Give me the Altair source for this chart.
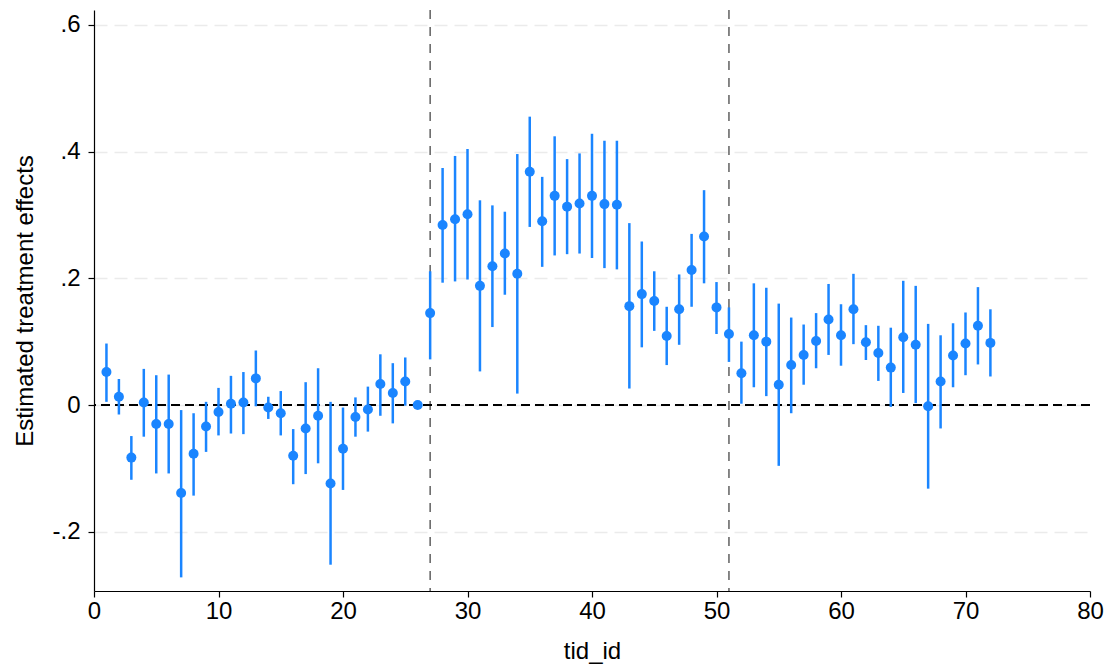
import altair as alt
import pandas as pd

tid = list(range(1, 73))
est = [0.052, 0.013, -0.083, 0.004, -0.030, -0.030, -0.139, -0.077, -0.034, -0.011,
       0.002, 0.004, 0.042, -0.004, -0.013, -0.080, -0.037, -0.017, -0.124, -0.069,
       -0.019, -0.007, 0.033, 0.019, 0.037, 0.000, 0.145, 0.284, 0.293, 0.301,
       0.188, 0.219, 0.239, 0.207, 0.368, 0.290, 0.330, 0.313, 0.318, 0.330,
       0.317, 0.316, 0.156, 0.175, 0.164, 0.109, 0.151, 0.213, 0.266, 0.154,
       0.112, 0.050, 0.110, 0.100, 0.032, 0.063, 0.079, 0.101, 0.135, 0.110,
       0.151, 0.099, 0.082, 0.059, 0.107, 0.095, -0.002, 0.037, 0.078, 0.097,
       0.125, 0.098]
lo = [0.005, -0.015, -0.118, -0.050, -0.108, -0.108, -0.272, -0.143, -0.074, -0.048,
      -0.045, -0.046, -0.002, -0.022, -0.048, -0.125, -0.109, -0.092, -0.252, -0.134,
      -0.050, -0.042, -0.017, -0.029, -0.001, 0.000, 0.072, 0.193, 0.195, 0.198,
      0.053, 0.123, 0.174, 0.018, 0.281, 0.218, 0.236, 0.238, 0.239, 0.232,
      0.216, 0.214, 0.026, 0.091, 0.117, 0.063, 0.095, 0.155, 0.192, 0.112,
      0.068, 0.002, 0.028, 0.014, -0.096, -0.013, 0.032, 0.058, 0.079, 0.062,
      0.096, 0.071, 0.038, -0.003, 0.019, 0.003, -0.132, -0.037, 0.028, 0.047,
      0.064, 0.045]
hi = [0.097, 0.041, -0.049, 0.057, 0.047, 0.048, -0.008, -0.013, 0.005, 0.027,
      0.046, 0.052, 0.086, 0.013, 0.022, -0.038, 0.036, 0.058, 0.005, -0.004,
      0.012, 0.029, 0.080, 0.066, 0.075, 0.000, 0.211, 0.374, 0.393, 0.404,
      0.323, 0.315, 0.305, 0.396, 0.455, 0.360, 0.424, 0.388, 0.397, 0.428,
      0.417, 0.417, 0.287, 0.258, 0.211, 0.155, 0.206, 0.270, 0.339, 0.194,
      0.154, 0.100, 0.192, 0.185, 0.160, 0.138, 0.127, 0.145, 0.191, 0.159,
      0.207, 0.126, 0.125, 0.122, 0.196, 0.188, 0.128, 0.110, 0.129, 0.146,
      0.186, 0.151]

vlines = [27, 51]
x_ticks = [0, 10, 20, 30, 40, 50, 60, 70, 80]
y_ticks = [-0.2, 0, 0.2, 0.4, 0.6]

df = pd.DataFrame({"tid_id": tid, "est": est, "lo": lo, "hi": hi})
BLUE = "#1a85ff"
FONT = "Liberation Sans"

xscale = alt.Scale(domain=[0, 80], nice=False, zero=False)
yscale = alt.Scale(domain=[-0.2935, 0.6233], nice=False, zero=False)

xaxis = alt.Axis(values=x_ticks, title="tid_id", grid=False, tickSize=6,
                 labelPadding=2, titlePadding=16, labelFlush=False,
                 domainColor="black", tickColor="black")
yaxis = alt.Axis(values=y_ticks, title="Estimated treatment effects", grid=True,
                 gridColor="#ebebeb", gridDash=[13, 7], gridWidth=1.5,
                 tickSize=6, labelPadding=8, titlePadding=14, labelFlush=False,
                 domainColor="black", tickColor="black",
                 labelExpr="datum.value == 0 ? '0' : (datum.value < 0 ? '-' : '') + replace(format(abs(datum.value), '.1f'), '0.', '.')")

bars = alt.Chart(df).mark_rule(color=BLUE, strokeWidth=2.5).encode(
    x=alt.X("tid_id:Q", scale=xscale, axis=xaxis),
    y=alt.Y("lo:Q", scale=yscale, axis=yaxis),
    y2="hi:Q",
)

zero = alt.Chart(pd.DataFrame({"y": [0]})).mark_rule(
    color="black", strokeWidth=2, strokeDash=[9, 5]
).encode(y=alt.Y("y:Q", scale=yscale))

vl = alt.Chart(pd.DataFrame({"x": vlines})).mark_rule(
    color="#606060", strokeWidth=1.5, strokeDash=[9, 8]
).encode(x=alt.X("x:Q", scale=xscale))

pts = alt.Chart(df).mark_circle(color=BLUE, opacity=1, size=100).encode(
    x=alt.X("tid_id:Q", scale=xscale),
    y=alt.Y("est:Q", scale=yscale),
)

chart = alt.layer(vl, zero, bars, pts).properties(
    width=996, height=581,
    autosize=alt.AutoSizeParams(type="none"),
    padding={"left": 86, "top": 2, "right": 14, "bottom": 80},
).configure_view(stroke=None).configure_axis(
    labelFont=FONT, titleFont=FONT, labelFontSize=24, titleFontSize=24,
    labelColor="black", titleColor="black", titleFontWeight="normal",
    domainWidth=1.2, tickWidth=1.2,
)

chart.save("out.html", embed_options={"renderer": "svg", "actions": False})
